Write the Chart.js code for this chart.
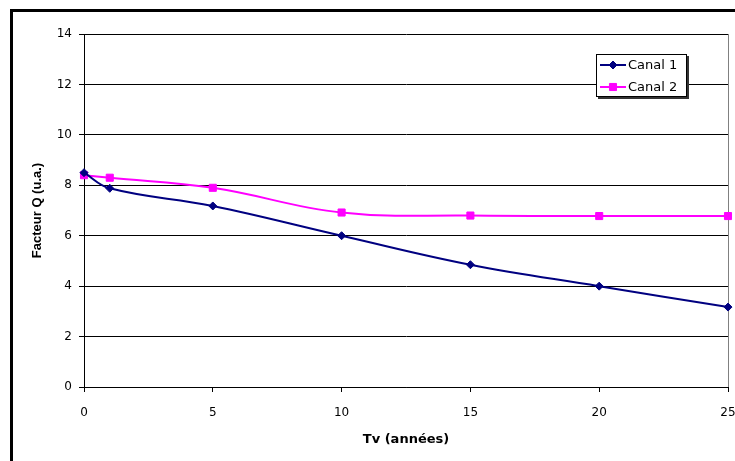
<!DOCTYPE html>
<html>
<head>
<meta charset="utf-8">
<script src="https://cdn.jsdelivr.net/npm/chart.js@4.4.1/dist/chart.umd.min.js"></script>
<style>
  html, body { margin: 0; padding: 0; overflow: hidden; background: #fff; width: 735px; height: 461px; }
  #wrap { position: relative; width: 735px; height: 461px; overflow: hidden; }
  #frame { position: absolute; left: 10px; top: 9px; width: 800px; height: 600px;
           border: 3px solid #000; box-sizing: border-box; pointer-events: none; }
  canvas { position: absolute; left: 0; top: 0; }
</style>
</head>
<body>
<div id="wrap">
  <canvas id="c" width="760" height="461"></canvas>
  <div id="frame"></div>
</div>
<script>
// Ageing time (years) and measured Q factor for each channel
const years  = [0, 1, 5, 10, 15, 20, 25];
const canal1 = [8.5, 7.88, 7.18, 6.0, 4.85, 4.0, 3.17];
const canal2 = [8.4, 8.3, 7.9, 6.92, 6.8, 6.78, 6.78];
const seriesNames = ['Canal 1', 'Canal 2'];

// Axis ticks and titles
const xTicks = [0, 5, 10, 15, 20, 25];
const yTicks = [0, 2, 4, 6, 8, 10, 12, 14];
const xTitle = 'Tv (années)';
const yTitle = 'Facteur Q (u.a.)';

const pts = vals => years.map((x, i) => ({ x, y: vals[i] }));

// Boxed legend with a short line through each marker and a drop shadow
const boxLegend = {
  id: 'boxLegend',
  afterDraw(chart) {
    const { ctx, chartArea } = chart;
    const w = 91, h = 43;
    const x = chartArea.right - 132, y = chartArea.top + 20;
    ctx.save();
    ctx.fillStyle = '#333';
    ctx.fillRect(x + 2, y + 2, w, h);
    ctx.fillStyle = '#fff';
    ctx.fillRect(x, y, w, h);
    ctx.strokeStyle = '#000';
    ctx.lineWidth = 1;
    ctx.strokeRect(x + 0.5, y + 0.5, w - 1, h - 1);
    chart.data.datasets.forEach((ds, i) => {
      const cy = y + 11 + i * 22;
      ctx.strokeStyle = ds.borderColor;
      ctx.lineWidth = 2;
      ctx.beginPath();
      ctx.moveTo(x + 4, cy);
      ctx.lineTo(x + 30, cy);
      ctx.stroke();
      ctx.fillStyle = ds.backgroundColor;
      ctx.strokeStyle = ds.borderColor;
      ctx.lineWidth = 1;
      Chart.helpers.drawPoint(ctx, { pointStyle: ds.pointStyle, radius: ds.pointRadius, borderWidth: 1, rotation: 0 }, x + 17, cy);
      ctx.fillStyle = '#000';
      ctx.font = '13px "DejaVu Sans"';
      ctx.textBaseline = 'middle';
      ctx.textAlign = 'left';
      ctx.fillText(ds.label, x + 32, cy + 1);
    });
    ctx.restore();
  }
};

new Chart(document.getElementById('c'), {
  type: 'line',
  data: {
    datasets: [
      {
        label: seriesNames[0], data: pts(canal1),
        borderColor: '#000080', backgroundColor: '#000080', borderWidth: 2,
        pointStyle: 'rectRot', pointRadius: 4, pointBorderWidth: 1,
        tension: 0.4, clip: false, fill: false
      },
      {
        label: seriesNames[1], data: pts(canal2),
        borderColor: '#FF00FF', backgroundColor: '#FF00FF', borderWidth: 2,
        pointStyle: 'rect', pointRadius: 5, pointBorderWidth: 1,
        tension: 0.4, clip: false, fill: false
      }
    ]
  },
  options: {
    responsive: false,
    animation: false,
    devicePixelRatio: 1,
    layout: { padding: { top: 34, right: 32, bottom: 0, left: 0 } },
    plugins: { legend: { display: false }, tooltip: { enabled: false } },
    scales: {
      x: {
        type: 'linear', min: xTicks[0], max: xTicks[xTicks.length - 1],
        afterBuildTicks: s => { s.ticks = xTicks.map(v => ({ value: v })); },
        ticks: { font: { family: 'DejaVu Sans', size: 12 }, color: '#000', padding: 14, maxRotation: 0, autoSkip: false },
        grid: {
          color: c => (c.tick && c.tick.value === xTicks[xTicks.length - 1]) ? '#808080' : 'rgba(0,0,0,0)',
          tickColor: '#000', tickLength: 5, lineWidth: 1
        },
        border: { color: '#000', width: 1 },
        title: { display: true, text: xTitle, color: '#000',
                 font: { family: 'DejaVu Sans', size: 13, weight: 'bold' }, padding: { top: 0, bottom: 14 } },
        afterFit(s) { s.height = 74; s.paddingLeft = 0; s.paddingRight = 0; }
      },
      y: {
        type: 'linear', min: yTicks[0], max: yTicks[yTicks.length - 1],
        afterBuildTicks: s => { s.ticks = yTicks.map(v => ({ value: v })); },
        ticks: { font: { family: 'DejaVu Sans', size: 12 }, color: '#000', padding: 7, autoSkip: false },
        grid: { color: '#000', tickColor: '#000', tickLength: 5, lineWidth: 1 },
        border: { color: '#000', width: 1 },
        title: { display: true, text: yTitle, color: '#000',
                 font: { family: 'Liberation Sans', size: 13, weight: 'bold' }, padding: { top: 30, bottom: 0 } },
        afterFit(s) { s.width = 84; s.paddingTop = 0; s.paddingBottom = 0; }
      }
    }
  },
  plugins: [boxLegend]
});
</script>
</body>
</html>
